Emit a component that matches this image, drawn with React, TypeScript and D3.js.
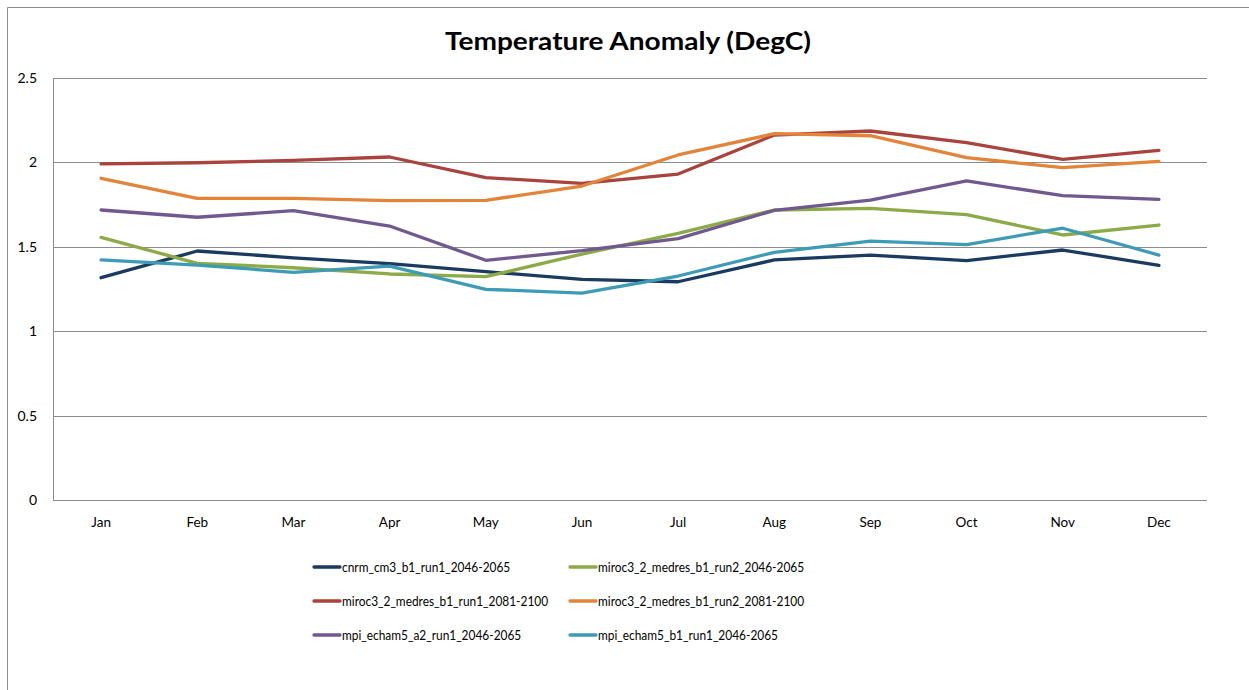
import React from "react";
import * as d3 from "d3";

const months = ["Jan", "Feb", "Mar", "Apr", "May", "Jun", "Jul", "Aug", "Sep", "Oct", "Nov", "Dec"];
const yTicks = [0, 0.5, 1, 1.5, 2, 2.5];

const seriesNames = [
  "cnrm_cm3_b1_run1_2046-2065",
  "miroc3_2_medres_b1_run2_2046-2065",
  "miroc3_2_medres_b1_run1_2081-2100",
  "miroc3_2_medres_b1_run2_2081-2100",
  "mpi_echam5_a2_run1_2046-2065",
  "mpi_echam5_b1_run1_2046-2065",
];
const seriesColors = ["#1B3A60", "#8CAA48", "#AA423E", "#E2843A", "#71588F", "#3E9BB6"];

const cnrm = [1.317, 1.475, 1.435, 1.4, 1.353, 1.307, 1.293, 1.422, 1.451, 1.418, 1.481, 1.39];
const mirocB1Run2Mid = [1.556, 1.402, 1.376, 1.339, 1.323, 1.457, 1.58, 1.718, 1.728, 1.69, 1.57, 1.629];
const mirocB1Run1Late = [1.991, 1.998, 2.012, 2.032, 1.91, 1.876, 1.931, 2.162, 2.186, 2.117, 2.018, 2.071];
const mirocB1Run2Late = [1.906, 1.787, 1.787, 1.773, 1.775, 1.86, 2.044, 2.17, 2.158, 2.028, 1.969, 2.006];
const mpiA2 = [1.718, 1.675, 1.714, 1.623, 1.42, 1.477, 1.548, 1.716, 1.777, 1.89, 1.803, 1.781];
const mpiB1 = [1.422, 1.392, 1.349, 1.386, 1.248, 1.226, 1.327, 1.467, 1.534, 1.513, 1.61, 1.451];

const seriesValues = [cnrm, mirocB1Run2Mid, mirocB1Run1Late, mirocB1Run2Late, mpiA2, mpiB1];

const W = 1249;
const H = 690;
const plot = { left: 53, right: 1207, top: 78, bottom: 500 };
const font = "Lato, 'Open Sans', sans-serif";

export default function App() {
  const x = d3.scaleBand<string>().domain(months).range([plot.left, plot.right]).paddingInner(0).paddingOuter(0);
  const y = d3.scaleLinear().domain([0, 2.5]).range([plot.bottom, plot.top]);
  const line = d3
    .line<number>()
    .x((_, i) => (x(months[i]) as number) + x.bandwidth() / 2)
    .y((v) => y(v));

  const legendCols = [314, 570];
  const legendRows = [567, 601, 635];

  return (
    <svg
      width={W}
      height={H}
      style={{ position: "absolute", left: 0, top: 0, background: "#fff" }}
      fontFamily={font}
    >
      <rect x={0} y={0} width={W} height={H} fill="#fff" />
      <path d={`M7.5,${H} V7.5 H${W}`} fill="none" stroke="#8c8c8c" strokeWidth={1} />
      <text
        x={628}
        y={50}
        textAnchor="middle"
        fontSize={24}
        fontWeight="bold"
        fill="#000"
        textLength={366}
        lengthAdjust="spacingAndGlyphs"
      >
        Temperature Anomaly (DegC)
      </text>
      {yTicks.map((t) => (
        <line
          key={t}
          x1={plot.left}
          x2={plot.right}
          y1={Math.round(y(t)) + 0.5}
          y2={Math.round(y(t)) + 0.5}
          stroke="#8c8c8c"
          strokeWidth={1}
        />
      ))}
      <line x1={plot.left + 0.5} x2={plot.left + 0.5} y1={plot.top} y2={plot.bottom + 1} stroke="#8c8c8c" />
      {yTicks.map((t) => (
        <text key={t} x={37} y={y(t) + 5} textAnchor="end" fontSize={14} fill="#000">
          {String(t)}
        </text>
      ))}
      {months.map((m) => (
        <text
          key={m}
          x={(x(m) as number) + x.bandwidth() / 2}
          y={527}
          textAnchor="middle"
          fontSize={13.5}
          fill="#000"
        >
          {m}
        </text>
      ))}
      {seriesValues.map((vals, i) => (
        <path
          key={seriesNames[i]}
          d={line(vals) as string}
          fill="none"
          stroke={seriesColors[i]}
          strokeWidth={3.3}
          strokeLinejoin="round"
          strokeLinecap="round"
        />
      ))}
      {seriesNames.map((name, i) => {
        const cx = legendCols[i % 2];
        const cy = legendRows[Math.floor(i / 2)];
        return (
          <g key={name}>
            <line x1={cx} x2={cx + 26} y1={cy} y2={cy} stroke={seriesColors[i]} strokeWidth={3.3} strokeLinecap="round" />
            <text transform={`translate(${cx + 28},${cy + 5}) scale(0.85,1)`} fontSize={14} fill="#000">
              {name}
            </text>
          </g>
        );
      })}
    </svg>
  );
}
